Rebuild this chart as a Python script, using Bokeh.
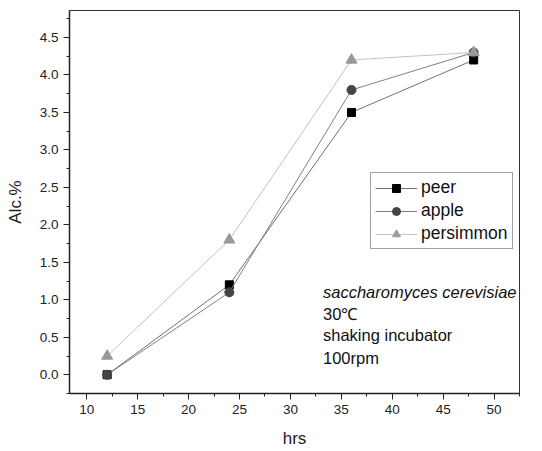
from bokeh.plotting import figure
from bokeh.models import (Range1d, Legend, LegendItem, Label, FixedTicker)
from bokeh.embed import file_html
from bokeh.resources import INLINE

hrs = [12, 24, 36, 48]
peer = [0.0, 1.2, 3.5, 4.2]
apple = [0.0, 1.1, 3.8, 4.3]
persimmon = [0.25, 1.8, 4.2, 4.3]
x_ticks = [10, 15, 20, 25, 30, 35, 40, 45, 50]
y_ticks = [0.0, 0.5, 1.0, 1.5, 2.0, 2.5, 3.0, 3.5, 4.0, 4.5]
notes = ["saccharomyces cerevisiae", "30\u2103", "shaking incubator", "100rpm"]

FONT = "Liberation Sans"

p = figure(width=542, height=451, output_backend="svg", toolbar_location=None,
           x_range=Range1d(8.3, 52.5), y_range=Range1d(-0.25, 4.86),
           min_border_left=69, min_border_right=23, min_border_top=10,
           min_border_bottom=58)
p.grid.visible = False
p.outline_line_color = "#333333"
p.outline_line_width = 1

for ax in (p.xaxis[0], p.yaxis[0]):
    ax.major_label_text_font = FONT
    ax.major_label_text_font_size = "13.5px"
    ax.major_label_text_color = "#222222"
    ax.axis_label_text_font = FONT
    ax.axis_label_text_font_size = "17px"
    ax.axis_label_text_font_style = "normal"
    ax.axis_label_text_color = "#222222"
    ax.axis_line_color = "#222222"
    ax.axis_line_width = 1.5
    ax.major_tick_line_color = "#222222"
    ax.minor_tick_line_color = "#222222"
    ax.major_tick_out = 6
    ax.major_tick_in = 0
    ax.minor_tick_out = 3
    ax.minor_tick_in = 0

p.xaxis.ticker = FixedTicker(ticks=x_ticks,
                             minor_ticks=[t + 2.5 for t in [7.5] + x_ticks])
p.yaxis.ticker = FixedTicker(ticks=y_ticks,
                             minor_ticks=[t + 0.25 for t in [-0.5] + y_ticks])
p.yaxis.major_label_overrides = {t: f"{t:.1f}" for t in y_ticks}
p.xaxis.axis_label = "hrs"
p.yaxis.axis_label = "Alc.%"
p.xaxis.axis_label_standoff = 12
p.yaxis.axis_label_standoff = 12

series = [
    ("peer", peer, "#707070", "square", "black", 8),
    ("apple", apple, "#808080", "circle", "#444444", 9),
    ("persimmon", persimmon, "#c2c2c2", "triangle", "#999999", 11),
]
items = []
for name, ys, lc, marker, mc, sz in series:
    l = p.line(hrs, ys, line_color=lc, line_width=1)
    s = p.scatter(hrs, ys, marker=marker, size=sz, fill_color=mc, line_color=mc)
    items.append(LegendItem(label=name, renderers=[l, s]))

legend = Legend(items=items, location=(301, 144),
                label_text_font=FONT, label_text_font_size="17.5px",
                label_text_color="#111111",
                border_line_color="#444444", border_line_width=1,
                glyph_width=42, glyph_height=20, label_standoff=4,
                spacing=2, padding=4, margin=0,
                label_height=18)
p.add_layout(legend, "center")

ys_notes = [1.10, 0.81, 0.53, 0.22]
for txt, yy in zip(notes, ys_notes):
    p.add_layout(Label(x=33.2, y=yy, text=txt, text_font=FONT,
                       text_font_size="16.5px", text_baseline="middle",
                       text_color="#111111",
                       text_font_style="italic" if txt == notes[0] else "normal"))

open("out.html", "w").write(file_html(p, INLINE))
